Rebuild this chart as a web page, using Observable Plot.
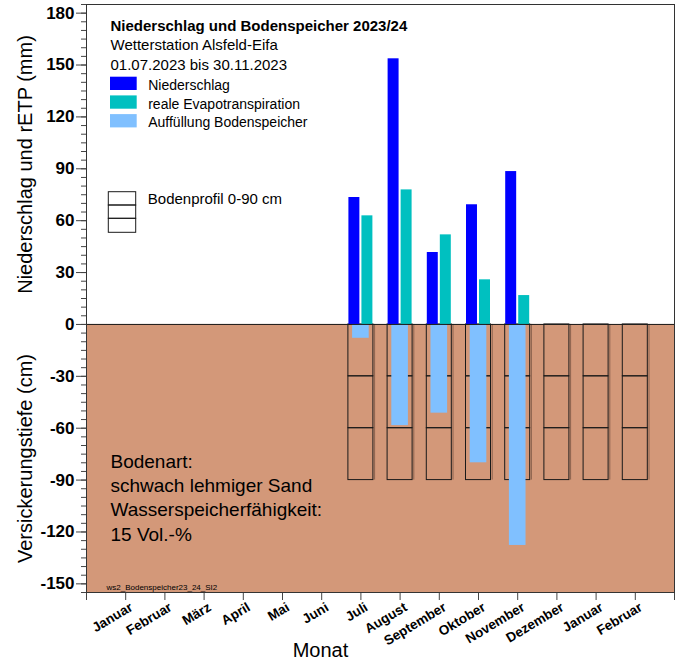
<!DOCTYPE html>
<html><head><meta charset="utf-8">
<script src="https://cdn.jsdelivr.net/npm/d3@7"></script>
<script src="https://cdn.jsdelivr.net/npm/@observablehq/plot@0.6"></script>
<style>body{margin:0;background:#fff;} svg{display:block;}</style>
</head><body><div id="chart"></div>
<script>
// ---- data ----
const monthLabels = ["Januar","Februar","März","April","Mai","Juni","Juli","August","September","Oktober","November","Dezember","Januar","Februar"];
const dataMonths = ["Juli","August","September","Oktober","November"];
const niederschlag = [73.4, 153.6, 41.6, 69.2, 88.4];
const etp = [62.8, 77.8, 51.8, 25.8, 16.7];
const auffuellung = [-8.0, -58.5, -51.3, -80.0, -127.8];
const profileMonths = ["Juli","August","September","Oktober","November","Dezember","Januar","Februar"];
const profileLayers = [0, -30, -60, -90];
const yTicks = [-150, -120, -90, -60, -30, 0, 30, 60, 90, 120, 150, 180];
const legendTitle = ["Niederschlag und Bodenspeicher 2023/24", "Wetterstation Alsfeld-Eifa", "01.07.2023 bis 30.11.2023"];
const seriesNames = ["Niederschlag", "reale Evapotranspiration", "Auffüllung Bodenspeicher"];
const seriesColors = ["#0000FF", "#00C0C0", "#80C0FF"];
const soilColor = "#D39879";
const profileLabel = "Bodenprofil 0-90 cm";
const soilNotes = ["Bodenart:", "schwach lehmiger Sand", "Wasserspeicherfähigkeit:", "15 Vol.-%"];
const fileTag = "ws2_Bodenspeicher23_24_SI2";
const xTitle = "Monat";
const yTitleTop = "Niederschlag und rETP (mm)";
const yTitleBottom = "Versickerungstiefe (cm)";

// ---- derived tables ----
const firstPos = monthLabels.indexOf("Juli") + 1;
const bars = dataMonths.map((m, i) => ({month: m, pos: monthLabels.indexOf(m) + 1, n: niederschlag[i], e: etp[i], a: auffuellung[i]}));
const months = monthLabels.map((name, i) => ({name, pos: i + 1}));
const profiles = [];
profileMonths.forEach((m, k) => {
  for (let j = 0; j < profileLayers.length - 1; j++) {
    profiles.push({month: m, pos: firstPos + k, top: profileLayers[j], bottom: profileLayers[j + 1]});
  }
});
const profileCols = profileMonths.map((m, k) => ({month: m, pos: firstPos + k, top: profileLayers[0], bottom: profileLayers[profileLayers.length - 1]}));

const font = "Liberation Sans, Arial, Helvetica, sans-serif";

const marks = [
  Plot.rect([0], {y1: 0, y2: -155, fill: soilColor}),
  Plot.rect(profiles, {x1: d => d.pos - 0.319, x2: d => d.pos + 0.319, y1: "top", y2: "bottom", fill: "none", stroke: "#1a1a1a", strokeWidth: 1}),
  Plot.ruleX(profileCols, {x: d => d.pos + 0.319, y1: "top", y2: "bottom", dx: 1.2, stroke: "#7a5644", strokeWidth: 1, strokeOpacity: 0.8}),
  Plot.rect(bars, {x1: d => d.pos - 0.212, x2: d => d.pos + 0.212, y1: 0, y2: "a", fill: seriesColors[2]}),
  Plot.rect(bars, {x1: d => d.pos - 0.306, x2: d => d.pos - 0.026, y1: 0, y2: "n", fill: seriesColors[0]}),
  Plot.rect(bars, {x1: d => d.pos + 0.026, x2: d => d.pos + 0.306, y1: 0, y2: "e", fill: seriesColors[1]}),
  Plot.ruleY([0], {stroke: "#1a1a1a", strokeWidth: 1}),
  Plot.axisY({ticks: d3.range(-155, 186, 5), tickSize: 5, tickFormat: () => "", label: null, stroke: "#444"}),
  Plot.axisY({ticks: yTicks, tickSize: 10, tickPadding: 2, tickFormat: d => String(d), fontSize: 17, fontWeight: "bold", label: null, stroke: "#444"}),
  Plot.axisX({ticks: d3.range(0, 16), tickSize: 8, tickFormat: () => "", label: null, stroke: "#444"}),
  Plot.text(months, {x: "pos", text: "name", frameAnchor: "bottom", dx: 3, dy: 9, rotate: -31, textAnchor: "end", lineAnchor: "top", fontSize: 13.5, fontWeight: "bold"}),
  Plot.text([xTitle], {text: d => d, frameAnchor: "bottom", textAnchor: "middle", dx: -60, dy: 64, lineAnchor: "bottom", fontSize: 20}),
  Plot.text([yTitleTop], {text: d => d, frameAnchor: "left", textAnchor: "middle", dx: -61, dy: -134, rotate: -90, fontSize: 20}),
  Plot.text([yTitleBottom], {text: d => d, frameAnchor: "left", textAnchor: "middle", dx: -61, dy: 160, rotate: -90, fontSize: 20}),
  ...legendTitle.map((t, i) => Plot.text([t], {text: d => d, frameAnchor: "top-left", dx: 24, dy: 26 + 19.5 * i, lineAnchor: "bottom", textAnchor: "start", fontSize: 15, fontWeight: i === 0 ? "bold" : "normal"})),
  ...seriesNames.map((t, i) => Plot.rect([0], {fill: seriesColors[i], insetLeft: 24, insetRight: 537.3, insetTop: 72.7 + 18.7 * i, insetBottom: 502 - 18.7 * i})),
  ...seriesNames.map((t, i) => Plot.text([t], {text: d => d, frameAnchor: "top-left", dx: 61.7, dy: 85.3 + 18.7 * i, lineAnchor: "bottom", textAnchor: "start", fontSize: 14})),
  ...[[187.7, 387], [201, 373.7], [214.3, 359.7]].map(([t, b]) => Plot.rect([0], {fill: "none", stroke: "#1a1a1a", strokeWidth: 1, insetLeft: 22.3, insetRight: 538.3, insetTop: t, insetBottom: b})),
  Plot.text([profileLabel], {text: d => d, frameAnchor: "top-left", dx: 61.3, dy: 199.3, lineAnchor: "bottom", textAnchor: "start", fontSize: 15}),
  ...soilNotes.map((t, i) => Plot.text([t], {text: d => d, frameAnchor: "top-left", dx: 24, dy: 463.5 + 24.2 * i, lineAnchor: "bottom", textAnchor: "start", fontSize: 19})),
  Plot.text([fileTag], {text: d => d, frameAnchor: "top-left", dx: 20, dy: 585, lineAnchor: "bottom", textAnchor: "start", fontSize: 8}),
  Plot.frame({stroke: "#333"})
];

const chart = Plot.plot({
  width: 680, height: 662,
  marginLeft: 86, marginRight: 6, marginTop: 4, marginBottom: 70,
  x: {domain: [0, 15], axis: null},
  y: {domain: [-155, 185], axis: null},
  style: {fontFamily: font, fontSize: "14px", color: "black", background: "white"},
  marks
});
document.getElementById("chart").appendChild(chart);
</script>
</body></html>
